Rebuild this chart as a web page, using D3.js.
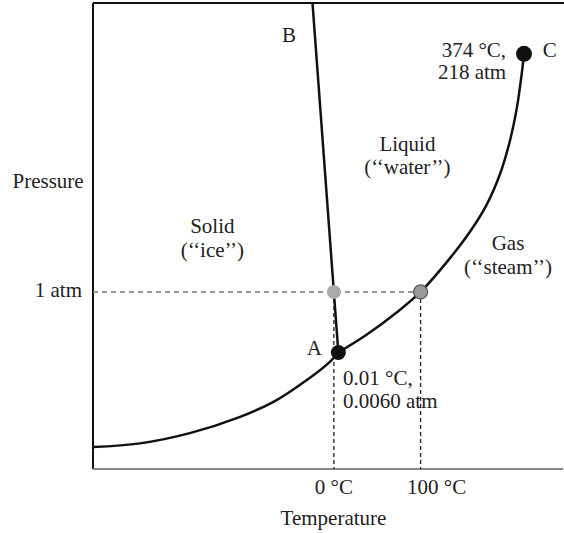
<!DOCTYPE html>
<html>
<head>
<meta charset="utf-8">
<script src="https://cdn.jsdelivr.net/npm/d3@7"></script>
<style>
  body { margin: 0; background: #fff; overflow: hidden; }
  text { font-family: "Liberation Serif", "Times New Roman", serif; font-size: 21px; fill: #222; }
</style>
</head>
<body>
<div id="chart"></div>
<script>
// phase diagram of water, schematic units (0-100 on both axes)
var sublimation = [[0, 4.7], [10, 5.5], [20.6, 7.7], [31.3, 11.2], [38.4, 14.4], [45.5, 19.1], [50.4, 23.0], [52.2, 25.0]]
var vaporization = [[52.2, 25.0], [58.2, 28.8], [64.6, 33.6], [69.7, 38.0], [76.0, 45.3], [80.2, 50.9], [83.8, 56.8], [86.6, 63.3], [88.7, 70.4], [90.2, 77.6], [91.2, 84.7], [91.7, 89.1]]
var fusion = [[52.2, 25.0], [46.7, 100]]

var tempTicks = [51.25, 69.7]
var tempLabels = ["0 °C", "100 °C"]
var pressTicks = [38.0]
var pressLabels = ["1 atm"]

var triplePoint = [52.2, 25.0]
var criticalPoint = [91.7, 89.1]
var meltPoint = [51.25, 38.0]
var boilPoint = [69.7, 38.0]

var width = 564, height = 533
var margin = { top: 3, left: 93, bottom: 64, right: 1 }

var svg = d3.select("#chart").append("svg")
    .attr("width", width)
    .attr("height", height)
    .style("display", "block")

var x = d3.scaleLinear().domain([0, 100]).range([margin.left, width - margin.right])
var y = d3.scaleLinear().domain([0, 100]).range([height - margin.bottom, margin.top])

// frame: left, top (black), bottom (grey)
svg.append("line")
    .attr("x1", x(0)).attr("x2", x(0)).attr("y1", y(100)).attr("y2", y(0))
    .attr("stroke", "#111").attr("stroke-width", 2)
svg.append("line")
    .attr("x1", x(0)).attr("x2", width).attr("y1", y(100)).attr("y2", y(100))
    .attr("stroke", "#111").attr("stroke-width", 2)
svg.append("line")
    .attr("x1", x(0)).attr("x2", x(100)).attr("y1", y(0)).attr("y2", y(0))
    .attr("stroke", "#888").attr("stroke-width", 2)

// dashed guides
svg.append("line")
    .attr("x1", x(0)).attr("x2", x(boilPoint[0])).attr("y1", y(pressTicks[0])).attr("y2", y(pressTicks[0]))
    .attr("stroke", "#777").attr("stroke-width", 1.5).attr("stroke-dasharray", "5,4")
svg.selectAll(".vguide")
    .data(tempTicks)
    .enter().append("line")
    .attr("x1", d => x(d)).attr("x2", d => x(d))
    .attr("y1", y(pressTicks[0])).attr("y2", y(0))
    .attr("stroke", "#222").attr("stroke-width", 1.3).attr("stroke-dasharray", "4,3")

// curves
var line = d3.line()
    .x(d => x(d[0]))
    .y(d => y(d[1]))
    .curve(d3.curveCatmullRom.alpha(0.5))
var straight = d3.line().x(d => x(d[0])).y(d => y(d[1]))

svg.append("path").attr("d", line(sublimation))
    .attr("fill", "none").attr("stroke", "#111").attr("stroke-width", 2.5)
svg.append("path").attr("d", line(vaporization))
    .attr("fill", "none").attr("stroke", "#111").attr("stroke-width", 2.5)
svg.append("path").attr("d", straight(fusion))
    .attr("fill", "none").attr("stroke", "#111").attr("stroke-width", 2.5)

// points
svg.append("circle").attr("cx", x(meltPoint[0])).attr("cy", y(meltPoint[1])).attr("r", 7)
    .attr("fill", "#aaa")
svg.append("circle").attr("cx", x(boilPoint[0])).attr("cy", y(boilPoint[1])).attr("r", 7)
    .attr("fill", "#999").attr("stroke", "#555").attr("stroke-width", 1.2)
svg.append("circle").attr("cx", x(triplePoint[0])).attr("cy", y(triplePoint[1])).attr("r", 7.5)
    .attr("fill", "#111")
svg.append("circle").attr("cx", x(criticalPoint[0])).attr("cy", y(criticalPoint[1])).attr("r", 8)
    .attr("fill", "#111")

// tick labels
svg.selectAll(".tlabel")
    .data(tempTicks)
    .enter().append("text")
    .attr("x", (d, i) => x(d) + (i == 1 ? 16 : 0))
    .attr("y", y(0) + 25)
    .attr("text-anchor", "middle")
    .text((d, i) => tempLabels[i])
svg.selectAll(".plabel")
    .data(pressTicks)
    .enter().append("text")
    .attr("x", x(0) - 11)
    .attr("y", d => y(d) + 5)
    .attr("text-anchor", "end")
    .text((d, i) => pressLabels[i])

// axis titles
svg.append("text").attr("x", 12.5).attr("y", 188).text("Pressure")
svg.append("text").attr("x", 333.5).attr("y", 525).attr("text-anchor", "middle").text("Temperature")

// annotations
var notes = [
    { u: 40.2, v: 91.6, a: "start", t: "B" },
    { u: 95.7, v: 88.4, a: "start", t: "C" },
    { u: 87.9, v: 88.5, a: "end", t: "374 °C," },
    { u: 87.9, v: 83.6, a: "end", t: "218 atm" },
    { u: 66.9, v: 68.2, a: "middle", t: "Liquid" },
    { u: 66.9, v: 63.4, a: "middle", t: "(‘‘water’’)" },
    { u: 88.3, v: 46.9, a: "middle", t: "Gas" },
    { u: 88.3, v: 41.9, a: "middle", t: "(‘‘steam’’)" },
    { u: 25.4, v: 50.6, a: "middle", t: "Solid" },
    { u: 25.4, v: 45.5, a: "middle", t: "(‘‘ice’’)" },
    { u: 48.7, v: 24.5, a: "end", t: "A" },
    { u: 53.2, v: 18.0, a: "start", t: "0.01 °C," },
    { u: 53.2, v: 13.1, a: "start", t: "0.0060 atm" }
]
svg.selectAll(".note")
    .data(notes)
    .enter().append("text")
    .attr("x", d => x(d.u))
    .attr("y", d => y(d.v))
    .attr("text-anchor", d => d.a)
    .text(d => d.t)
</script>
</body>
</html>
